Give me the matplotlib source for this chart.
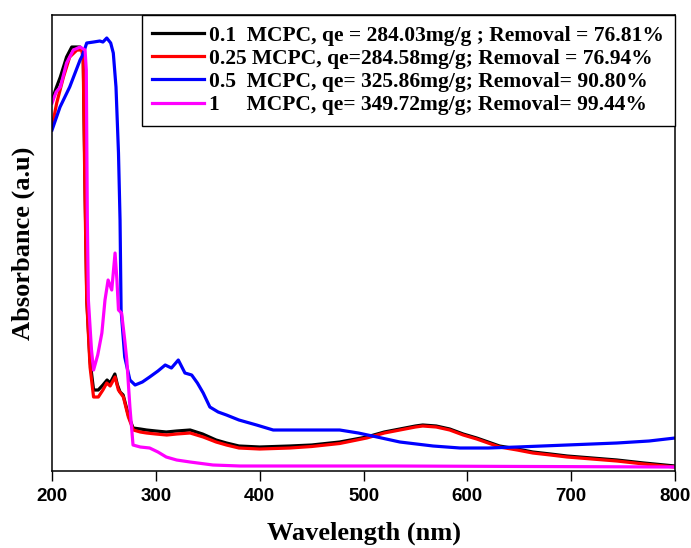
import matplotlib.pyplot as plt
import numpy as np

# wavelength (nm) / absorbance (a.u.)
wl_01 = [200, 204, 208, 214, 219, 227, 230, 232, 233.5, 236.5, 240, 244.5, 249, 253, 256, 260.5, 263,
         265.5, 268.5, 273.5, 278, 285, 291, 300, 310, 320, 333, 345, 358, 368, 380, 400, 429, 450,
         477, 503, 520, 535, 550, 557, 570, 583, 596, 609, 620, 631, 648, 663, 680, 696, 720, 744,
         770, 800]
abs_01 = [3.71, 3.83, 3.94, 4.14, 4.24, 4.24, 4.19, 2.71, 1.71, 1.11, 0.81, 0.81, 0.86, 0.91, 0.88,
          0.97, 0.86, 0.79, 0.76, 0.56, 0.43, 0.42, 0.41, 0.40, 0.39, 0.40, 0.41, 0.37, 0.31, 0.28,
          0.25, 0.24, 0.25, 0.26, 0.29, 0.34, 0.39, 0.42, 0.45, 0.46, 0.45, 0.42, 0.37, 0.33, 0.29,
          0.25, 0.22, 0.19, 0.17, 0.15, 0.13, 0.11, 0.08, 0.05]

wl_025 = [200, 204.5, 211, 217, 224, 228.6, 230, 231.8, 233.4, 236.6, 240, 244.6, 249, 252.7, 256,
          260.7, 263.9, 268.7, 273.5, 278.3, 285, 291, 300, 310.5, 320, 333, 345.6, 358, 368, 380,
          400, 429, 450, 477, 503, 520, 535, 550, 557, 570, 583, 596, 609, 620, 631, 648, 663, 680,
          696, 720, 744, 770, 800]
abs_025 = [3.44, 3.68, 3.94, 4.14, 4.21, 4.21, 4.11, 2.71, 1.71, 1.04, 0.74, 0.74, 0.81, 0.88, 0.85,
           0.94, 0.81, 0.74, 0.54, 0.41, 0.39, 0.38, 0.37, 0.36, 0.37, 0.38, 0.34, 0.29, 0.26, 0.23,
           0.22, 0.23, 0.245, 0.275, 0.33, 0.38, 0.41, 0.44, 0.45, 0.44, 0.41, 0.36, 0.32, 0.28, 0.24,
           0.21, 0.18, 0.16, 0.14, 0.12, 0.10, 0.07, 0.04]

wl_05 = [200, 207.7, 217, 227, 229, 231.8, 233.4, 240, 246, 249, 252.7, 256.5, 259, 261.6, 264,
         265.5, 266.5, 270, 275, 280, 287, 294, 302, 309, 315, 321.6, 328, 334.5, 340, 345.6, 352,
         360, 368, 380, 397, 413, 440, 477, 495, 513, 535, 567, 593, 620, 648, 696, 744, 775, 800]
abs_05 = [3.41, 3.64, 3.84, 4.11, 4.15, 4.23, 4.28, 4.29, 4.30, 4.29, 4.33, 4.28, 4.18, 3.84, 3.18,
          2.51, 1.61, 1.14, 0.91, 0.86, 0.89, 0.94, 1.00, 1.06, 1.03, 1.11, 0.98, 0.96, 0.88, 0.78,
          0.64, 0.59, 0.56, 0.51, 0.46, 0.41, 0.41, 0.41, 0.38, 0.34, 0.29, 0.25, 0.23, 0.23, 0.24,
          0.26, 0.28, 0.30, 0.33]

wl_1 = [200, 204, 208, 214, 220.5, 227, 231.8, 233, 234, 235, 238, 240, 244, 248, 251, 254, 257.5,
        260.7, 262.5, 264, 267, 270, 272, 275, 278, 285, 294, 302, 310, 320, 333, 355, 381, 450,
        530, 800]
abs_1 = [3.68, 3.79, 3.84, 4.08, 4.21, 4.24, 4.21, 4.01, 2.51, 1.71, 1.21, 1.01, 1.16, 1.38, 1.71,
         1.91, 1.81, 2.18, 1.91, 1.61, 1.58, 1.31, 1.11, 0.64, 0.26, 0.24, 0.23, 0.19, 0.14, 0.11,
         0.09, 0.06, 0.05, 0.05, 0.05, 0.04]

labels = ['0.1  MCPC, qe = 284.03mg/g ; Removal = 76.81%',
          '0.25 MCPC, qe=284.58mg/g; Removal = 76.94%',
          '0.5  MCPC, qe= 325.86mg/g; Removal= 90.80%',
          '1     MCPC, qe= 349.72mg/g; Removal= 99.44%']

fig = plt.figure(figsize=(6.91, 5.48), dpi=100)
ax = fig.add_axes([0.0753, 0.1405, 0.9016, 0.8321])

ax.plot(wl_01, abs_01, color='black', lw=2.3, label=labels[0])
ax.plot(wl_025, abs_025, color='red', lw=2.3, label=labels[1])
ax.plot(wl_05, abs_05, color='blue', lw=2.3, label=labels[2])
ax.plot(wl_1, abs_1, color='magenta', lw=2.3, label=labels[3])

ax.set_xlim(200, 800)
ax.set_ylim(0, 4.56)
ax.set_xticks([200, 300, 400, 500, 600, 700, 800])
ax.set_yticks([])
ax.tick_params(axis='x', direction='out', length=7, width=1, pad=5)
for lab in ax.get_xticklabels():
    lab.set_fontfamily('Liberation Sans')
    lab.set_fontweight('bold')
    lab.set_fontsize(13.5)
for s in ax.spines.values():
    s.set_linewidth(1.1)

ax.set_xlabel('Wavelength (nm)', fontfamily='Liberation Serif', fontweight='bold', fontsize=19, labelpad=12)
ax.set_ylabel('Absorbance (a.u)', fontfamily='Liberation Serif', fontweight='bold', fontsize=19, labelpad=12)

leg = ax.legend(loc='upper right', borderaxespad=0, fancybox=False, framealpha=1, edgecolor='black',
                prop={'family': 'Liberation Serif', 'weight': 'bold', 'size': 15.5},
                handlelength=2.4, handletextpad=0.25, labelspacing=0.14, borderpad=0.5)
leg.get_frame().set_linewidth(1.0)

fig.savefig('out.png', dpi=100)
